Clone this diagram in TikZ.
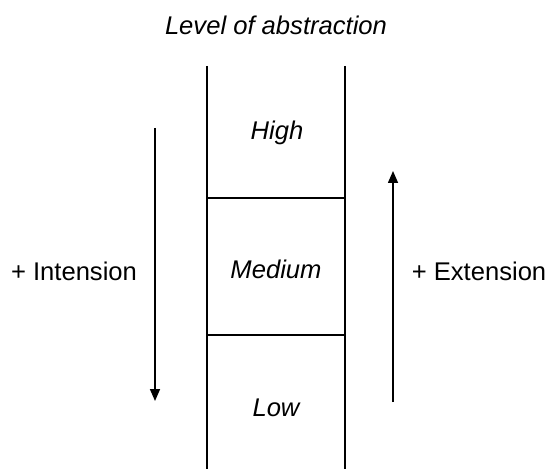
\documentclass[tikz,border=0pt]{standalone}
\usepackage{fontspec}
\setmainfont{Liberation Sans}
\usetikzlibrary{arrows.meta}

\begin{document}
\begin{tikzpicture}[
  x=0.5pt, y=-0.5pt,
  font=\fontsize{12.8}{15}\selectfont,
  >={Triangle[length=6pt, width=5pt]},
  wall/.style={line width=1pt},
  trend/.style={->, line width=0.8pt},
  lvl/.style={font=\fontsize{12.8}{15}\selectfont\itshape},
  side/.style={inner sep=0pt},
]
\useasboundingbox (0,0) rectangle (550,469);

% ---- column of levels ---------------------------------------------------
\coordinate (ltop) at (207,66);
\coordinate (lbot) at (207,469);
\coordinate (rtop) at (345,66);
\coordinate (rbot) at (345,469);
\coordinate (l1) at (207,198);
\coordinate (r1) at (345,198);
\coordinate (l2) at (207,335);
\coordinate (r2) at (345,335);

\draw[wall] (ltop) -- (lbot);
\draw[wall] (rtop) -- (rbot);
\draw[wall] (l1) -- (r1);
\draw[wall] (l2) -- (r2);

\node[lvl] (title) at (276,25) {Level of abstraction};
\node[lvl] (high) at (277,133) {High};
\node[lvl] (medium) at (276,269) {Medium};
\node[lvl] (low) at (276,408) {Low};

% ---- side trends ----------------------------------------------------------
\coordinate (intop) at (155,128);
\coordinate (inbot) at (155,401);
\coordinate (exbot) at (393,402);
\coordinate (extop) at (393,171);
\draw[trend] (intop) -- (inbot);
\draw[trend] (exbot) -- (extop);

\node[side] (intension) at (74,271) {+ Intension};
\node[side] (extension) at (479,271) {+ Extension};

\end{tikzpicture}
\end{document}
